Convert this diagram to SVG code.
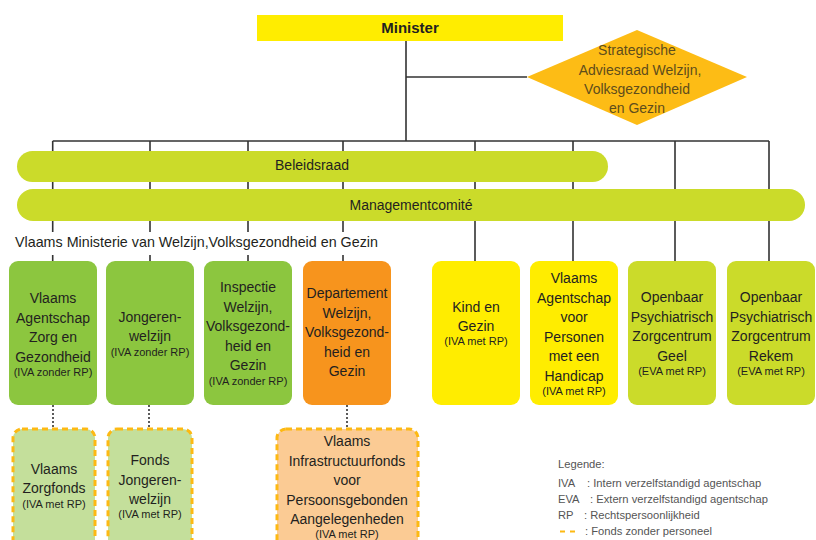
<svg xmlns="http://www.w3.org/2000/svg" width="816" height="540" viewBox="0 0 816 540">
<style>
text{font-family:"Liberation Sans",Arial,sans-serif;fill:#231f20}
.t{font-size:14px;text-anchor:middle}
.s{font-size:11px;text-anchor:middle}
.ln{stroke:#333;stroke-width:1.6;fill:none}
.dot{stroke:#333;stroke-width:1.6;stroke-dasharray:2,2;fill:none}
.g{fill:#8CC63F}
.o{fill:#F7941D}
.y{fill:#FFED00}
.l{fill:#CBDB2A}
.fg{fill:#C4DF9B;stroke:#FDB913;stroke-width:3;stroke-dasharray:6,4}
.fo{fill:#FBCB94;stroke:#FDB913;stroke-width:3;stroke-dasharray:6,4}
.lg{font-size:11.2px;fill:#555}
</style>
<g id="connectors">
<path class="ln" d="M406 41V141M406 77H527M52.7 141H769"/>
<path class="ln" d="M52.7 141V232M52.7 255V261M150 141V232M150 255V261M248 141V232M248 255V261M343 141V232M343 255V261"/>
<path class="ln" d="M475 141V261M573 141V261M675 141V261M769 141V261"/>
<path class="dot" d="M53 405V429M149 405V429M347 405V429"/>
</g>
<g id="minister"><rect x="257" y="15" width="306" height="26" class="y"/><text x="410" y="33" style="font-size:15px;font-weight:bold;text-anchor:middle">Minister</text></g>
<g id="adviesraad"><polygon points="527,77 637,30 747,77 637,125" fill="#FDBC15"/>
<text class="t" x="637" y="55" style="fill:#5e4d1c">Strategische</text><text class="t" x="640" y="75" style="fill:#5e4d1c">Adviesraad Welzijn,</text><text class="t" x="637" y="94" style="fill:#5e4d1c">Volksgezondheid</text><text class="t" x="637" y="113" style="fill:#5e4d1c">en Gezin</text></g>
<g id="beleidsraad"><rect x="17" y="151" width="591" height="31" rx="15.5" class="l"/><text class="t" x="312" y="170">Beleidsraad</text></g>
<g id="managementcomite"><rect x="17" y="189" width="788" height="32" rx="16" class="l"/><text class="t" x="411" y="210">Managementcomité</text></g>
<g id="ministerie"><text x="15" y="247" style="font-size:14.3px">Vlaams Ministerie van Welzijn,Volksgezondheid en Gezin</text></g>
<g id="vazg"><rect x="9" y="261" width="88" height="144" rx="9" class="g"/><text class="t" x="53" y="303">Vlaams</text><text class="t" x="53" y="322.5">Agentschap</text><text class="t" x="53" y="342">Zorg en</text><text class="t" x="53" y="361.5">Gezondheid</text><text class="s" x="53" y="376">(IVA zonder RP)</text></g>
<g id="jongerenwelzijn"><rect x="106" y="261" width="88" height="144" rx="9" class="g"/><text class="t" x="150" y="322">Jongeren-</text><text class="t" x="150" y="341">welzijn</text><text class="s" x="150" y="356">(IVA zonder RP)</text></g>
<g id="inspectie"><rect x="204" y="261" width="88" height="144" rx="9" class="g"/><text class="t" x="248" y="292">Inspectie</text><text class="t" x="248" y="311.5">Welzijn,</text><text class="t" x="248" y="331">Volksgezond-</text><text class="t" x="248" y="350.5">heid en</text><text class="t" x="248" y="370">Gezin</text><text class="s" x="248" y="385">(IVA zonder RP)</text></g>
<g id="departement"><rect x="303" y="261" width="88" height="144" rx="9" class="o"/><text class="t" x="347" y="298">Departement</text><text class="t" x="347" y="317.5">Welzijn,</text><text class="t" x="347" y="337">Volksgezond-</text><text class="t" x="347" y="356.5">heid en</text><text class="t" x="347" y="376">Gezin</text></g>
<g id="kindengezin"><rect x="432" y="261" width="88" height="144" rx="9" class="y"/><text class="t" x="476" y="312">Kind en</text><text class="t" x="476" y="331">Gezin</text><text class="s" x="476" y="345">(IVA met RP)</text></g>
<g id="vaph"><rect x="530" y="261" width="88" height="144" rx="9" class="y"/><text class="t" x="574" y="283">Vlaams</text><text class="t" x="574" y="302.5">Agentschap</text><text class="t" x="574" y="322">voor</text><text class="t" x="574" y="341.5">Personen</text><text class="t" x="574" y="361">met een</text><text class="t" x="574" y="380.5">Handicap</text><text class="s" x="574" y="395">(IVA met RP)</text></g>
<g id="opzgeel"><rect x="628" y="261" width="88" height="144" rx="9" class="l"/><text class="t" x="672" y="302">Openbaar</text><text class="t" x="672" y="321.5">Psychiatrisch</text><text class="t" x="672" y="341">Zorgcentrum</text><text class="t" x="672" y="360.5">Geel</text><text class="s" x="672" y="375">(EVA met RP)</text></g>
<g id="opzrekem"><rect x="727" y="261" width="88" height="144" rx="9" class="l"/><text class="t" x="771" y="302">Openbaar</text><text class="t" x="771" y="321.5">Psychiatrisch</text><text class="t" x="771" y="341">Zorgcentrum</text><text class="t" x="771" y="360.5">Rekem</text><text class="s" x="771" y="375">(EVA met RP)</text></g>
<g id="zorgfonds"><rect x="13" y="429" width="82" height="130" rx="9" class="fg"/><text class="t" x="54" y="474">Vlaams</text><text class="t" x="54" y="493">Zorgfonds</text><text class="s" x="54" y="508">(IVA met RP)</text></g>
<g id="fondsjongeren"><rect x="108" y="429" width="84" height="130" rx="9" class="fg"/><text class="t" x="150" y="465">Fonds</text><text class="t" x="150" y="484.5">Jongeren-</text><text class="t" x="150" y="504">welzijn</text><text class="s" x="150" y="518">(IVA met RP)</text></g>
<g id="vipa"><rect x="277" y="429" width="141" height="130" rx="9" class="fo"/><text class="t" x="347" y="446">Vlaams</text><text class="t" x="347" y="465.5">Infrastructuurfonds</text><text class="t" x="347" y="485">voor</text><text class="t" x="347" y="504.5">Persoonsgebonden</text><text class="t" x="347" y="524">Aangelegenheden</text><text class="s" x="347" y="538">(IVA met RP)</text></g>
<g id="legende">
<text class="lg" x="558" y="468">Legende:</text>
<text class="lg" x="558" y="487">IVA</text><text class="lg" x="587" y="487">: Intern verzelfstandigd agentschap</text>
<text class="lg" x="558" y="503">EVA</text><text class="lg" x="590" y="503">: Extern verzelfstandigd agentschap</text>
<text class="lg" x="558" y="519">RP</text><text class="lg" x="584" y="519">: Rechtspersoonlijkheid</text>
<path d="M560 531.5H565M570 531.5H575" stroke="#FDB913" stroke-width="2"/>
<text class="lg" x="585" y="535">: Fonds zonder personeel</text>
</g>
</svg>
